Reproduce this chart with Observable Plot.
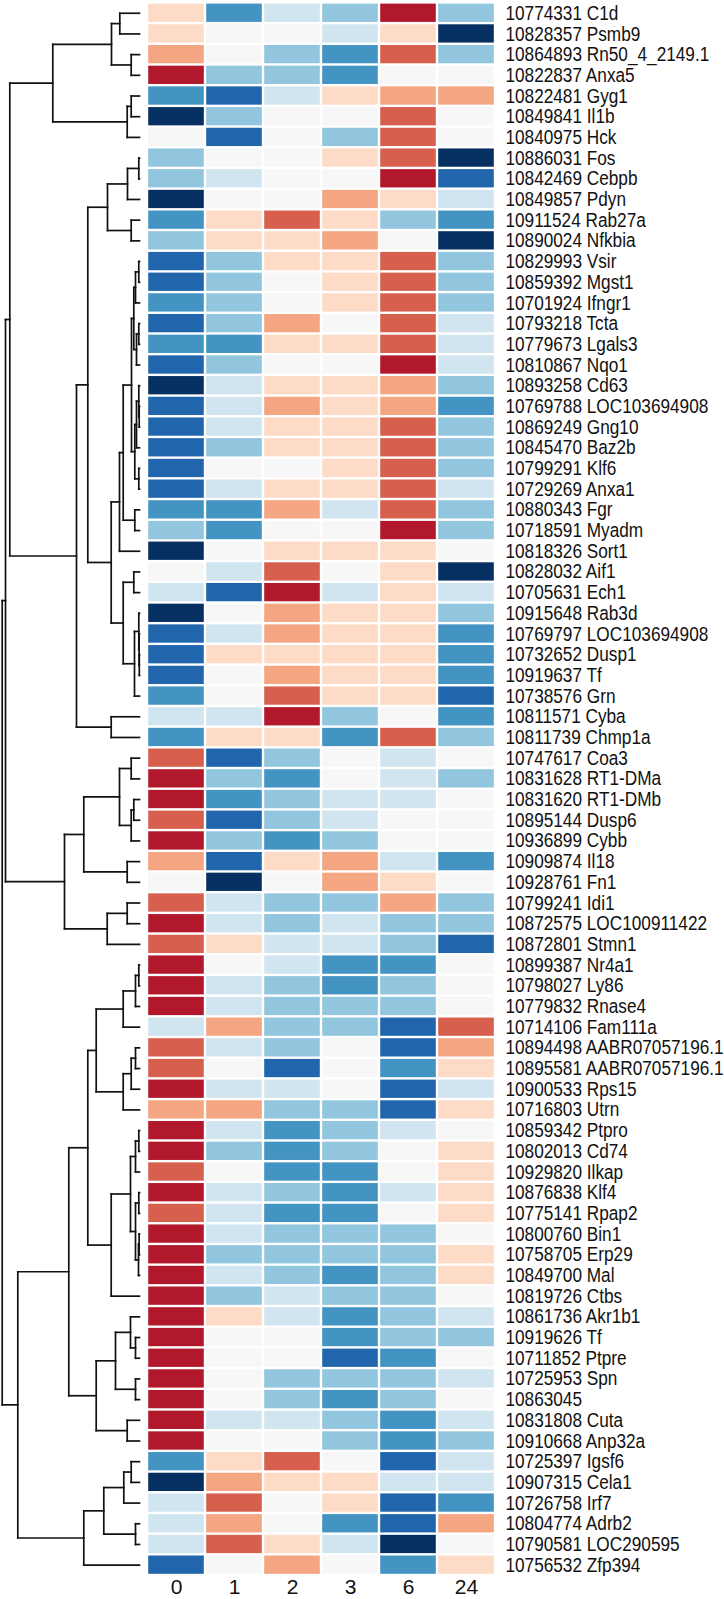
<!DOCTYPE html>
<html><head><meta charset="utf-8">
<script src="https://cdn.jsdelivr.net/npm/d3@7"></script>
<script src="https://cdn.jsdelivr.net/npm/@observablehq/plot@0.6"></script>
<style>
html,body{margin:0;padding:0;background:#fff;}
#wrap{display:flex;width:724px;height:1599px;overflow:hidden;}
#wrap svg{overflow:visible;}
</style></head><body><div id="wrap"></div>
<script>
const timepoints = ["0","1","2","3","6","24"];
const probeIds = ["10774331","10828357","10864893","10822837","10822481","10849841","10840975","10886031","10842469","10849857",
"10911524","10890024","10829993","10859392","10701924","10793218","10779673","10810867","10893258","10769788",
"10869249","10845470","10799291","10729269","10880343","10718591","10818326","10828032","10705631","10915648",
"10769797","10732652","10919637","10738576","10811571","10811739","10747617","10831628","10831620","10895144",
"10936899","10909874","10928761","10799241","10872575","10872801","10899387","10798027","10779832","10714106",
"10894498","10895581","10900533","10716803","10859342","10802013","10929820","10876838","10775141","10800760",
"10758705","10849700","10819726","10861736","10919626","10711852","10725953","10863045","10831808","10910668",
"10725397","10907315","10726758","10804774","10790581","10756532"];
const geneSymbols = ["C1d","Psmb9","Rn50_4_2149.1","Anxa5","Gyg1","Il1b","Hck","Fos","Cebpb","Pdyn",
"Rab27a","Nfkbia","Vsir","Mgst1","Ifngr1","Tcta","Lgals3","Nqo1","Cd63","LOC103694908",
"Gng10","Baz2b","Klf6","Anxa1","Fgr","Myadm","Sort1","Aif1","Ech1","Rab3d",
"LOC103694908","Dusp1","Tf","Grn","Cyba","Chmp1a","Coa3","RT1-DMa","RT1-DMb","Dusp6",
"Cybb","Il18","Fn1","Idi1","LOC100911422","Stmn1","Nr4a1","Ly86","Rnase4","Fam111a",
"AABR07057196.1","AABR07057196.1","Rps15","Utrn","Ptpro","Cd74","Ilkap","Klf4","Rpap2","Bin1",
"Erp29","Mal","Ctbs","Akr1b1","Tf","Ptpre","Spn","","Cuta","Anp32a",
"Igsf6","Cela1","Irf7","Adrb2","LOC290595","Zfp394"];

// binned row-scaled expression (positive = red, negative = blue)
const level_0h  = [1,1,2,4,-3,-5,0,-2,-2,-5, -3,-2,-4,-4,-3,-4,-3,-4,-5,-4, -4,-4,-4,-4,-3,-2,-5,0,-1,-5, -4,-4,-4,-3,-1,-3,3,4,4,3, 4,2,0,3,4,3,4,4,4,-1, 3,3,4,2,4,4,3,4,3,4, 4,4,4,4,4,4,4,4,4,4, -3,-5,-1,-1,-1,-4];
const level_1h  = [-3,0,0,-2,-4,-2,-4,0,-1,0, 1,1,-2,-2,-2,-2,-3,-2,-1,-1, -1,-2,0,-1,-3,-3,0,-1,-4,0, -1,1,0,0,-1,1,-4,-2,-3,-4, -2,-4,-5,-1,-1,1,0,-1,-1,2, -1,0,-1,2,-1,-2,0,-1,-1,-1, -2,-1,-2,1,0,0,0,0,-1,0, 1,2,3,2,3,0];
const level_2h  = [-1,0,-2,-2,-1,0,0,0,0,0, 3,1,1,0,0,2,1,0,1,2, 1,1,0,1,2,0,1,3,4,2, 2,1,2,3,4,1,-2,-3,-2,-2, -3,1,0,-2,-2,-1,-1,-2,-2,-2, -2,-4,-1,-2,-3,-3,-3,-2,-3,-2, -2,-2,-1,-1,0,0,-2,-2,-1,0, 3,1,0,0,1,2];
const level_3h  = [-2,-1,-3,-3,1,0,-2,1,0,2, 1,2,1,1,1,0,1,0,1,1, 1,1,1,1,-1,0,1,0,-1,1, 1,1,1,1,-2,-3,0,0,-1,-1, -2,2,2,-2,-1,-1,-3,-3,-2,-2, 0,0,0,-2,-2,-2,-3,-3,-3,-2, -2,-3,-2,-3,-3,-4,-2,-3,-2,-2, 0,1,1,-3,-1,0];
const level_6h  = [4,1,3,0,2,3,3,3,4,1, -2,0,3,3,3,3,3,4,2,2, 3,3,3,3,3,4,1,1,1,1, 1,1,1,1,0,3,-1,-1,-1,0, 0,-1,1,2,-2,-2,-3,-2,-2,-4, -4,-3,-4,-4,-1,0,0,-1,0,-2, -2,-2,-2,-2,-2,-3,-2,-2,-3,-3, -4,-1,-4,-4,-5,-3];
const level_24h = [-2,-5,-2,0,2,0,0,-5,-4,-1, -3,-5,-2,-2,-2,-1,-1,-1,-2,-3, -2,-2,-2,-1,-2,-2,0,-5,-1,-2, -3,-3,-3,-4,-3,-2,0,-2,0,0, 0,-3,0,-2,-2,-4,0,0,0,3, 2,1,-1,1,0,1,1,1,1,0, 1,1,0,-1,-2,0,-1,0,-1,-2, -1,-1,-3,2,0,1];
const levelsByTime = [level_0h, level_1h, level_2h, level_3h, level_6h, level_24h];

// row dendrogram: [mergeHeight, left, right], leaves = row number (1-based)
const tree =
[137.3,
  [134,
    [129.7,
      [86.7,
        [28, [19.7, 1, 2], [8.3, 3, 4]],
        [12.3, [8.3, 5, 6], 7]],
      [63,
        [51.7,
          [32, [12, [0.7, 8, 9], 10], [8.3, 11, 12]],
          [28.3,
            [20,
              [16.3,
                [8,
                  [5.7, [4, [0.7, 13, 14], 15], [3, [0.7, 16, 17], 18]],
                  [4.7, [3, [0.7, 19, [0.3, 20, 21]], 22], [0.7, 23, 24]]],
                [4.7, 25, 26]],
              27],
            [16.3, [5.7, 28, 29], [5, [0.7, 30, [0.4, 31, [0.2, 32, 33]]], 34]]]],
        [28.3, 35, 36]]],
    [75,
      [55.7,
        [20, [8.3, 37, 38], [8.3, [5.7, 39, 40], 41]],
        [12.3, 42, 43]],
      [32.3, [12.3, 44, 45], 46]]],
  [121.7,
    [70.7,
      [51.7,
        [43.3,
          [16.3, [4, [0.7, 47, 48], 49], 50],
          [16.3, [8.3, [4, 51, 52], 53], 54]],
        [28.3,
          [9, [4, [0.7, 55, 56], 57], [4, [0.7, 58, 59], [1, [0.4, 60, 61], 62]]],
          63]],
      [43.3,
        [24, [9, 64, [4, 65, 66]], [4, 67, 68]],
        [12.3, 69, 70]]],
    [55.7, [35.7, [15.7, [8.3, 71, 72], 73], [4, 74, 75]], 76]]];

const rowLabels = probeIds.map((id, i) => geneSymbols[i] ? `${id} ${geneSymbols[i]}` : id);
const cells = [];
rowLabels.forEach((r, i) => timepoints.forEach((t, j) => cells.push({row: r, time: t, level: levelsByTime[j][i]})));

const segs = [];
function layout(node) {
  if (typeof node === "number") return {y: node - 1, h: 0};
  const [h, a, b] = node;
  const A = layout(a), B = layout(b);
  segs.push({x1: A.h, y1: A.y, x2: h, y2: A.y});
  segs.push({x1: B.h, y1: B.y, x2: h, y2: B.y});
  segs.push({x1: h, y1: A.y, x2: h, y2: B.y});
  return {y: (A.y + B.y) / 2, h};
}
layout(tree);

const H = 1599, TOP = 2.4, BOTTOM = 1575;
const HEAT_W = 353, PAD = 8;
const font = "'Liberation Sans', Arial, Helvetica, sans-serif";

const dendro = Plot.plot({
  width: 144, height: H,
  margin: 0,
  x: {domain: [tree[0], 0], range: [1.7, 139], axis: null},
  y: {domain: [-0.5, rowLabels.length - 0.5], range: [TOP, BOTTOM], axis: null},
  marks: [
    Plot.link(segs, {x1: "x1", y1: "y1", x2: "x2", y2: "y2", stroke: "#111", strokeWidth: 1.7, strokeLinecap: "square"})
  ]
});

const heat = Plot.plot({
  width: 580, height: H,
  marginLeft: 0, marginRight: 580 - HEAT_W, marginTop: TOP, marginBottom: H - BOTTOM,
  style: {fontFamily: font, color: "#111", background: "transparent"},
  x: {domain: timepoints, padding: 0},
  y: {domain: rowLabels, padding: 0},
  color: {type: "ordinal", domain: d3.range(5, -6, -1), range: d3.schemeRdBu[11]},
  marks: [
    Plot.cell(cells, {x: "time", y: "row", fill: "level", inset: 1.2}),
    Plot.axisY({anchor: "right", tickSize: 0, tickPadding: PAD, fontSize: 20.5, label: null}),
    Plot.axisX({anchor: "bottom", tickSize: 0, tickPadding: 4, fontSize: 21, label: null})
  ]
});

// condensed look of the row labels (narrow sans), anchored at the label start
d3.select(heat).selectAll("g[aria-label='y-axis tick label']").each(function() {
  const x0 = HEAT_W + PAD;
  const prev = this.getAttribute("transform") || "";
  this.setAttribute("transform", `translate(${x0},0) scale(0.84,1) translate(${-x0},0) ${prev}`);
});

document.getElementById("wrap").append(dendro, heat);
</script></body></html>
